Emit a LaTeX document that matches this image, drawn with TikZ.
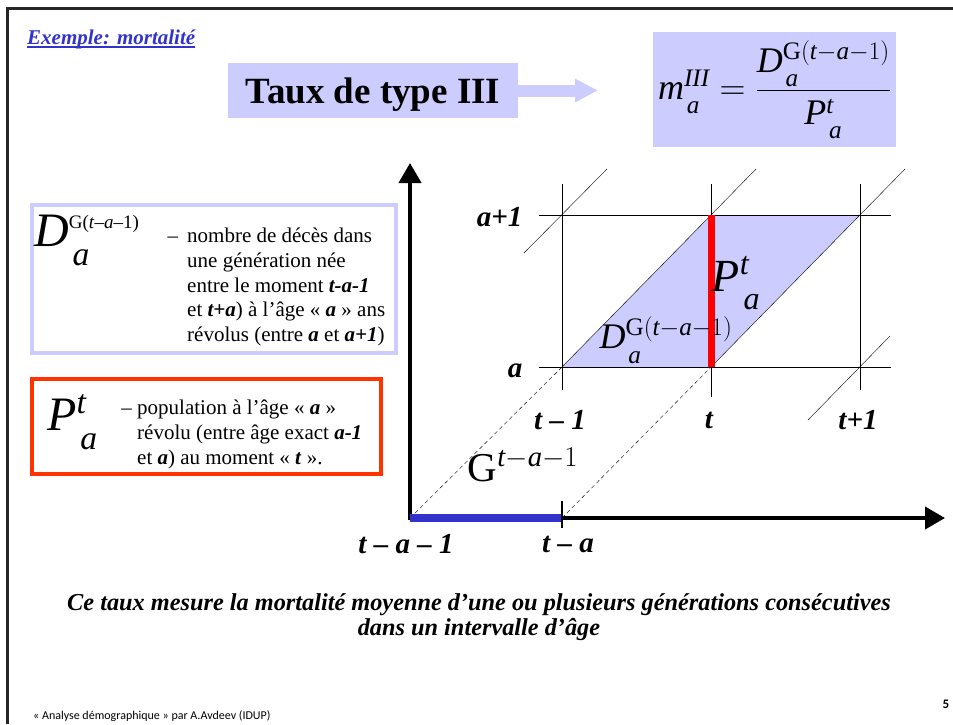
\RequirePackage{fix-cm}
\documentclass[tikz,border=0pt]{standalone}
\usepackage{amsmath}
\usepackage{fontspec}
\setmainfont{Liberation Serif}
\newfontfamily\footfont{Carlito}
\usetikzlibrary{positioning, arrows.meta}
\definecolor{lav}{RGB}{204,204,255}
\definecolor{linkblue}{RGB}{51,51,204}
\definecolor{boxred}{RGB}{255,51,0}
\newcommand{\vi}[1]{\mathit{#1}}
\newcommand{\lsub}[1]{\mkern2mu\raisebox{-0.15em}{$\scriptstyle\vi{#1}$}}

\begin{document}
\begin{tikzpicture}[x=1pt,y=-1pt,
    lbl/.style={font=\fontsize{29}{30}\selectfont\bfseries\itshape},
    desc/.style={font=\fontsize{21}{24.7}\selectfont, align=left, anchor=north west, inner sep=0pt},
    sym/.style={anchor=west, inner sep=0pt},
    axis/.style={line width=4pt, -{Triangle[length=20pt,width=22pt]}}]
    \useasboundingbox (0,0) rectangle (953,724);
    \draw[line width=3pt, black!85] (7,724) -- (7,8) -- (953,8);

    \node[anchor=base west, inner sep=0pt, text=linkblue, font=\fontsize{21}{22}\selectfont\bfseries\itshape] (ex) at (27,44) {Exemple: mortalité};
    \draw[linkblue, line width=1.6pt] ([yshift=-3pt]ex.base west) -- ([yshift=-3pt]ex.base east);
    \node[fill=lav, minimum width=290, minimum height=55, inner sep=0pt, text height=25pt, text depth=0pt, font=\fontsize{37}{40}\selectfont\bfseries] (title) at (373,90.5) {Taux de type III};
    \coordinate (arrtip) at (598,90.5);
    \draw[lav, line width=12pt, -{Triangle[length=23pt,width=22pt]}] (title.east) -- (arrtip);
    \node[fill=lav, minimum width=243, minimum height=115, inner sep=0pt, font=\fontsize{36}{40}\selectfont] (rate) at (774.5,89.5) {$\vi{m}_{\lsub{a}}^{\vi{III}} = \dfrac{\vi{D}_{\lsub{a}}^{\mathrm{G}(\vi{t}-\vi{a}-1)}}{\vi{P}_{\lsub{a}}^{\vi{t}}}$};

    % left boxes
    \node[draw=lav, line width=4pt, minimum width=364, minimum height=148] (dbox) at (214,279) {};
    \node[sym, font=\fontsize{48}{50}\selectfont] (dsym) at (34,240) {$\vi{D}_{\lsub{a}}^{\text{\fontsize{19}{19}\selectfont G(\textit{t}–\textit{a}–1)}}$};
    \node[desc] (dtxt) at (187,228) {\llap{–\hspace{9pt}}nombre de décès dans\\
        une génération née\\
        entre le moment \textbf{\textit{t-a-1}}\\
        et \textbf{\textit{t+a}}) à l’âge « \textbf{\textit{a}} » ans\\
        révolus (entre \textbf{\textit{a}} et \textbf{\textit{a+1}})};
    \node[draw=boxred, line width=4pt, minimum width=349, minimum height=95] (pbox) at (206.5,426.5) {};
    \node[sym, font=\fontsize{48}{50}\selectfont] (psym) at (47,422) {$\vi{P}_{\lsub{a}}^{\vi{t}}$};
    \node[desc] (ptxt) at (137,400) {\llap{– }population à l’âge « \textbf{\textit{a}} »\\
        révolu (entre âge exact \textbf{\textit{a-1}}\\
        et \textbf{\textit{a}}) au moment « \textbf{\textit{t}} ».};

    % Lexis diagram
    \coordinate (O) at (410,518);
    \coordinate (Ta) at (562,518);
    \coordinate (ytip) at (410,163);
    \coordinate (xtip) at (945,518);
    \coordinate (A0) at (562,367);
    \coordinate (A1) at (711,367);
    \coordinate (A2) at (860,367);
    \coordinate (B0) at (562,215);
    \coordinate (B1) at (711,215);
    \coordinate (B2) at (860,215);
    \fill[lav] (A0) -- (B1) -- (B2) -- (A1) -- cycle;
    \foreach \y in {215,367}
        \draw (539,\y) -- (891,\y);
    \foreach \x/\yb in {562/390,711/397,860/390}
        \draw (\x,184) -- (\x,\yb);
    \draw (524,253) -- (607,169);
    \draw (A0) -- (B1) -- (756,169);
    \draw (A1) -- (905,169);
    \draw (808,420) -- (890,336);
    \draw[dash pattern=on 4pt off 3pt] (O) -- (A0);
    \draw[dash pattern=on 4pt off 3pt] (Ta) -- (A1);
    \draw[red, line width=7pt] (A1) -- (B1);
    \draw[axis] (410,520) -- (ytip);
    \draw[axis] (O) -- (xtip);
    \draw[linkblue, line width=8pt] (O) -- (Ta);
    \draw[line width=2pt] (Ta) ++(0,-17) -- ++(0,27);

    \node[lbl, anchor=east] (la1) at (526,217) {a+1};
    \node[lbl, anchor=east] (la) at (526,371) {a};
    \node[lbl] (ltm1) at (560,420) {t – 1};
    \node[lbl] (lt) at (709,420) {t};
    \node[lbl] (ltp1) at (858,420) {t+1};
    \node[lbl] (ltam1) at (406,544) {t – a – 1};
    \node[lbl] (lta) at (568,544) {t – a};
    \node[font=\fontsize{46}{48}\selectfont] (plbl) at (736,283) {$\vi{P}_{\lsub{a}}^{\vi{t}}$};
    \node[font=\fontsize{36}{40}\selectfont] (dlbl) at (666,340) {$\vi{D}_{\lsub{a}}^{\mathrm{G}(\vi{t}-\vi{a}-1)}$};
    \node[font=\fontsize{41}{44}\selectfont] (glbl) at (523,465) {$\mathrm{G}^{\vi{t}-\vi{a}-1}$};

    \node[font=\fontsize{24.3}{24.5}\selectfont\bfseries\itshape, align=center] (note) at (479,617) {Ce taux mesure la mortalité moyenne d’une ou plusieurs générations consécutives\\ dans un intervalle d’âge};
    \node[anchor=base west, inner sep=0pt, font=\footfont\fontsize{12}{13}\selectfont] (foot) at (33,719) {« Analyse démographique » par A.Avdeev (IDUP)};
    \node[anchor=base, inner sep=0pt, font=\footfont\fontsize{13}{14}\selectfont\bfseries] (page) at (946,708) {5};
\end{tikzpicture}
\end{document}
